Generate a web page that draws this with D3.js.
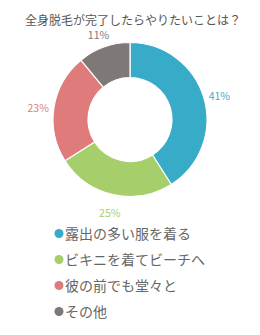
<!DOCTYPE html>
<html>
<head>
<meta charset="utf-8">
<script src="https://cdn.jsdelivr.net/npm/d3@7"></script>
<style>
  body { margin: 0; background: #fff; }
  svg { font-family: "Noto Sans CJK JP", "Noto Sans", sans-serif; }
</style>
</head>
<body>
<svg id="chart"></svg>
<script>
const title = '全身脱毛が完了したらやりたいことは？';
const categories = ['露出の多い服を着る', 'ビキニを着てビーチへ', '彼の前でも堂々と', 'その他'];
const values = [41, 25, 23, 11];
const colors = ['#37abc8', '#a6cf6b', '#e07b7b', '#7e7977'];

const svgWidth = 260;
const svgHeight = 335;
const cx = 130, cy = 119.5;
const outerR = 77, innerR = 42, labelR = 93;

const svg = d3.select('#chart')
    .attr('width', svgWidth)
    .attr('height', svgHeight);

// title
svg.append('text')
    .attr('x', 133)
    .attr('y', 21)
    .attr('dy', '0.35em')
    .attr('text-anchor', 'middle')
    .style('font-size', '12px')
    .style('fill', '#555')
    .text(title);

const data = categories.map((c, i) => ({ name: c, value: values[i], color: colors[i] }));

const pie = d3.pie()
    .sort(null)
    .value(d => d.value);

const arc = d3.arc()
    .innerRadius(innerR)
    .outerRadius(outerR);

const g = svg.append('g')
    .attr('transform', `translate(${cx}, ${cy})`);

const arcs = pie(data);

g.selectAll('path')
    .data(arcs)
    .enter()
    .append('path')
    .attr('d', arc)
    .attr('fill', d => d.data.color)
    .attr('stroke', '#fff')
    .attr('stroke-width', 1.2);

// percent labels
g.selectAll('.pct')
    .data(arcs)
    .enter()
    .append('text')
    .attr('class', 'pct')
    .attr('x', d => labelR * Math.sin((d.startAngle + d.endAngle) / 2))
    .attr('y', d => -labelR * Math.cos((d.startAngle + d.endAngle) / 2) + 3)
    .attr('dy', '0.35em')
    .attr('text-anchor', 'middle')
    .style('font-size', '10.5px')
    .style('fill', d => d.data.color)
    .text(d => d.data.value + '%');

// legend
const legend = svg.append('g')
    .attr('transform', 'translate(59, 233.5)');

const rows = legend.selectAll('g')
    .data(data)
    .enter()
    .append('g')
    .attr('transform', (d, i) => `translate(0, ${i * 26})`);

rows.append('circle')
    .attr('r', 4.5)
    .attr('fill', d => d.color);

rows.append('text')
    .attr('x', 6)
    .attr('dy', '0.36em')
    .style('font-size', '14px')
    .style('fill', '#666')
    .text(d => d.name);
</script>
</body>
</html>
